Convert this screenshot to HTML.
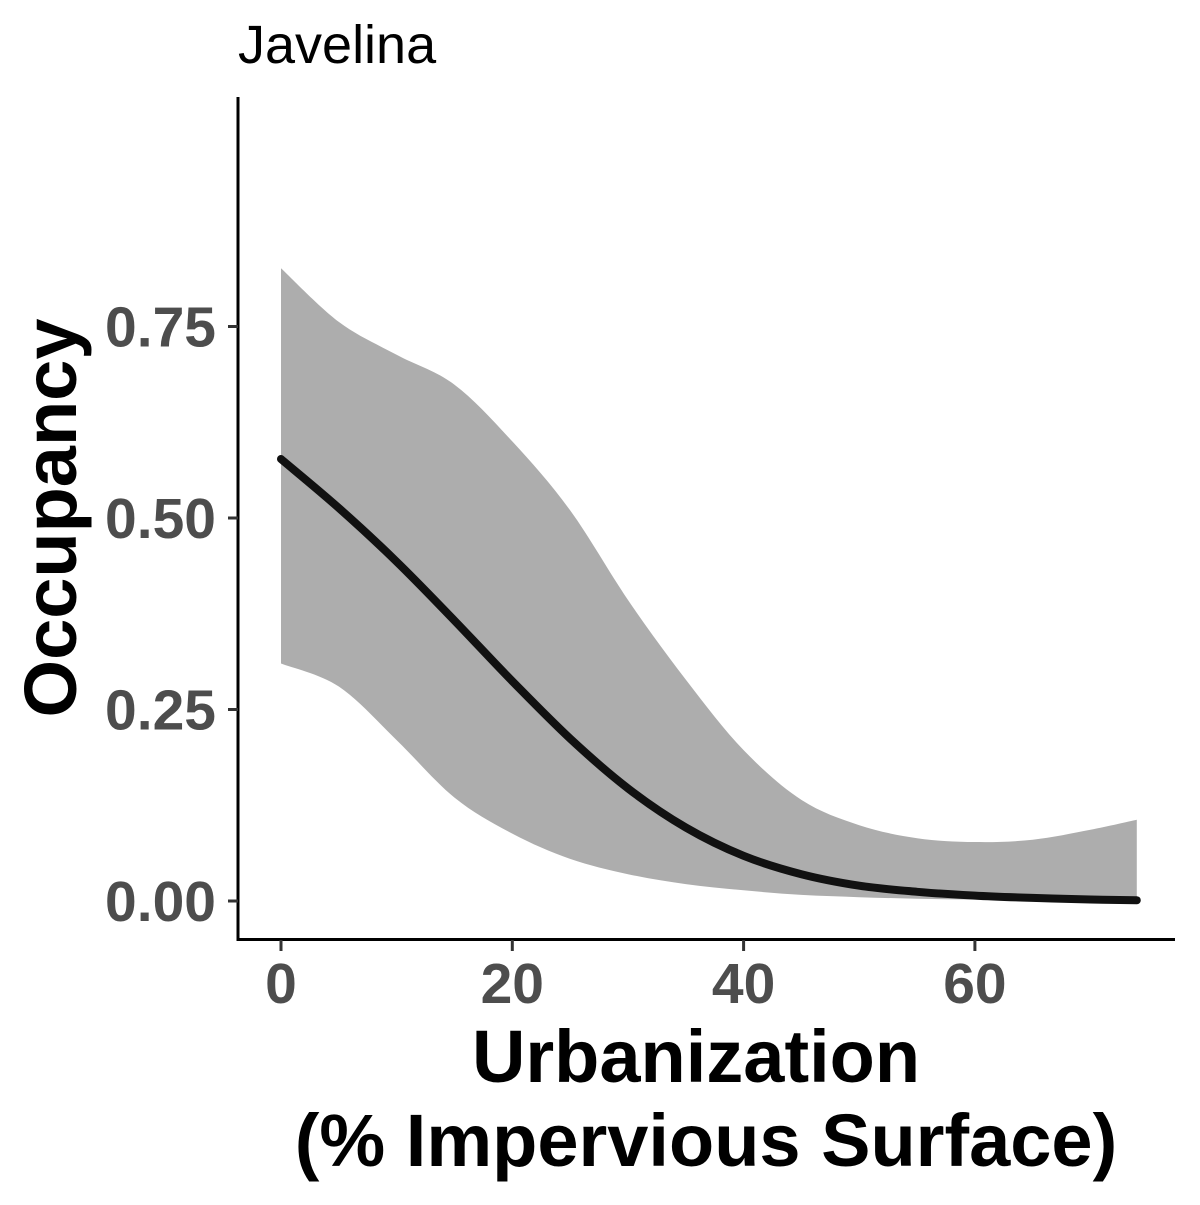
<!DOCTYPE html>
<html><head><meta charset="utf-8"><style>
html,body{margin:0;padding:0;background:#fff;}
svg text{font-family:"Liberation Sans",Arial,sans-serif;}
</style></head><body>
<svg id="chart" width="1200" height="1200" viewBox="0 0 1200 1200">
<text x="238" y="63" font-size="54" fill="#000">Javelina</text>
<g id="plot"></g>
<line x1="238" y1="97" x2="238" y2="941" stroke="#000" stroke-width="3"/>
<line x1="237" y1="939.5" x2="1175" y2="939.5" stroke="#000" stroke-width="3"/>
<g id="yticks"></g>
<g id="xticks"></g>
<text x="696" y="1082" font-size="74" font-weight="bold" text-anchor="middle" fill="#000">Urbanization</text>
<text x="706" y="1166" font-size="74" font-weight="bold" text-anchor="middle" fill="#000">(% Impervious Surface)</text>
<text transform="translate(76,518) rotate(-90)" font-size="74" font-weight="bold" text-anchor="middle" fill="#000">Occupancy</text>
</svg>
<script>
const xs    = [0, 5, 10, 15, 20, 25, 30, 35, 40, 45, 50, 55, 60, 65, 70, 74];
const mean  = [0.577, 0.513, 0.443, 0.366, 0.287, 0.212, 0.147, 0.096, 0.059, 0.035, 0.02, 0.012, 0.007, 0.004, 0.002, 0.001];
const upper = [0.826, 0.756, 0.713, 0.674, 0.60, 0.51, 0.393, 0.289, 0.197, 0.132, 0.099, 0.082, 0.077, 0.080, 0.093, 0.106];
const lower = [0.31, 0.28, 0.21, 0.135, 0.088, 0.055, 0.035, 0.022, 0.014, 0.008, 0.005, 0.003, 0.002, 0.001, 0.001, 0.001];
const xTicks = [0, 20, 40, 60];
const yTicks = [0, 0.25, 0.5, 0.75];
const yTickLabels = ["0.00", "0.25", "0.50", "0.75"];

const X = v => 281 + v * 11.565;
const Y = v => 901 - v * 766;
const NS = "http://www.w3.org/2000/svg";

function curve(pts, move) {
  let d = (move ? "M" : "L") + pts[0][0].toFixed(1) + "," + pts[0][1].toFixed(1);
  for (let i = 0; i < pts.length - 1; i++) {
    const p0 = pts[Math.max(0, i - 1)], p1 = pts[i], p2 = pts[i + 1], p3 = pts[Math.min(pts.length - 1, i + 2)];
    const c1 = [p1[0] + (p2[0] - p0[0]) / 6, p1[1] + (p2[1] - p0[1]) / 6];
    const c2 = [p2[0] - (p3[0] - p1[0]) / 6, p2[1] - (p3[1] - p1[1]) / 6];
    d += "C" + c1.map(n => n.toFixed(1)).join(",") + " " + c2.map(n => n.toFixed(1)).join(",") + " " + p2[0].toFixed(1) + "," + p2[1].toFixed(1);
  }
  return d;
}
const plot = document.getElementById("plot");
const up = xs.map((x, i) => [X(x), Y(upper[i])]);
const lo = xs.map((x, i) => [X(x), Y(lower[i])]).reverse();
const band = document.createElementNS(NS, "path");
band.setAttribute("d", curve(up, true) + curve(lo, false) + "Z");
band.setAttribute("fill", "#adadad");


plot.appendChild(band);
const line = document.createElementNS(NS, "path");
line.setAttribute("d", curve(xs.map((x, i) => [X(x), Y(mean[i])]), true));
line.setAttribute("fill", "none");
line.setAttribute("stroke", "#111");
line.setAttribute("stroke-width", "8");
line.setAttribute("stroke-linecap", "round");


plot.appendChild(line);

const yg = document.getElementById("yticks");
yTicks.forEach((v, i) => {
  const t = document.createElementNS(NS, "line");
  t.setAttribute("x1", 228); t.setAttribute("x2", 238);
  t.setAttribute("y1", Y(v)); t.setAttribute("y2", Y(v));
  t.setAttribute("stroke", "#333"); t.setAttribute("stroke-width", "3");
  
  
  yg.appendChild(t);
  const l = document.createElementNS(NS, "text");
  l.setAttribute("x", 216); l.setAttribute("y", Y(v) + 20);
  l.setAttribute("text-anchor", "end"); l.setAttribute("font-size", "57");
  l.setAttribute("font-weight", "bold"); l.setAttribute("fill", "#4d4d4d");
  l.textContent = yTickLabels[i];
  
  
  yg.appendChild(l);
});
const xg = document.getElementById("xticks");
xTicks.forEach(v => {
  const t = document.createElementNS(NS, "line");
  t.setAttribute("x1", X(v)); t.setAttribute("x2", X(v));
  t.setAttribute("y1", 940); t.setAttribute("y2", 951);
  t.setAttribute("stroke", "#333"); t.setAttribute("stroke-width", "3");
  
  
  xg.appendChild(t);
  const l = document.createElementNS(NS, "text");
  l.setAttribute("x", X(v)); l.setAttribute("y", 1003);
  l.setAttribute("text-anchor", "middle"); l.setAttribute("font-size", "57");
  l.setAttribute("font-weight", "bold"); l.setAttribute("fill", "#4d4d4d");
  l.textContent = String(v);
  
  
  xg.appendChild(l);
});
</script>
</body></html>
